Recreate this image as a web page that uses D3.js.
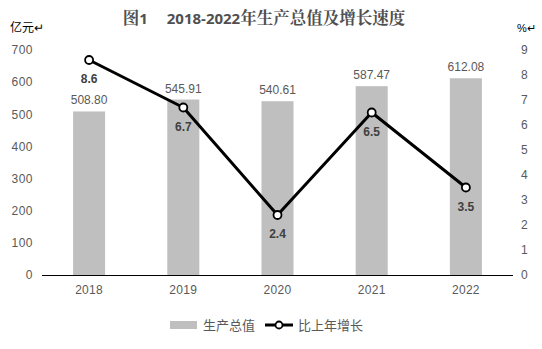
<!DOCTYPE html>
<html><head><meta charset="utf-8">
<script src="https://cdn.jsdelivr.net/npm/d3@7"></script>
<style>body{margin:0;background:#fff}svg{display:block}</style>
</head><body>
<svg id="c" width="542" height="349"></svg>
<script>
const years = ["2018","2019","2020","2021","2022"];
const gdp = [508.80, 545.91, 540.61, 587.47, 612.08];
const growth = [8.6, 6.7, 2.4, 6.5, 3.5];
const leftTicks = [0,100,200,300,400,500,600,700];
const rightTicks = [0,1,2,3,4,5,6,7,8,9];

const svg = d3.select("#c");
const m = {l:42, r:513, t:50, b:275};
const x = d3.scaleBand().domain(years).range([m.l, m.r]).paddingInner(0.66).paddingOuter(0.33);
const yL = d3.scaleLinear().domain([0,700]).range([m.b, m.t]);
const yR = d3.scaleLinear().domain([0,9]).range([m.b, m.t]);
const font = "'Liberation Sans', 'Noto Sans CJK SC', sans-serif";
const grey = "#595959";

const serif = "'Noto Serif CJK SC','Noto Sans CJK SC',serif";
const t = svg.append("text").attr("x",264).attr("y",24).attr("text-anchor","middle")
  .attr("font-weight","bold").attr("font-size",16.5).attr("fill","#505050");
t.append("tspan").attr("font-family",serif).text("图");
t.append("tspan").attr("font-family","'Open Sans','Liberation Sans',sans-serif").attr("font-size",15).text("1\u2003 2018-2022");
t.append("tspan").attr("font-family",serif).text("年生产总值及增长速度");

svg.append("text").attr("x",10).attr("y",32).attr("font-family",font).attr("font-size",12).attr("fill","#000").text("亿元↵");
svg.append("text").attr("x",517).attr("y",32).attr("font-family",font).attr("font-size",11).attr("fill","#000").text("%↵");

// bars
svg.selectAll("rect.bar").data(years).join("rect").attr("class","bar")
  .attr("x", d=>x(d)).attr("width", x.bandwidth())
  .attr("y", (d,i)=>yL(gdp[i])).attr("height",(d,i)=>m.b - yL(gdp[i]))
  .attr("fill","#bfbfbf");

// left axis
const axL = svg.append("g").attr("transform",`translate(${m.l-9},0)`)
  .call(d3.axisLeft(yL).tickValues(leftTicks).tickSize(0).tickPadding(0));
axL.select(".domain").remove();
axL.selectAll("text").attr("font-family",font).attr("font-size",12).attr("fill",grey).attr("letter-spacing","0.5px");

// right axis
const axR = svg.append("g").attr("transform",`translate(${m.r+8},0)`)
  .call(d3.axisRight(yR).tickValues(rightTicks).tickSize(0).tickPadding(0));
axR.select(".domain").remove();
axR.selectAll("text").attr("font-family",font).attr("font-size",12).attr("fill",grey);

// baseline
svg.append("line").attr("x1",m.l).attr("x2",m.r).attr("y1",m.b+0.5).attr("y2",m.b+0.5).attr("stroke","#000").attr("stroke-width",1);

// x axis labels
const axB = svg.append("g").attr("transform",`translate(0,${m.b+10})`)
  .call(d3.axisBottom(x).tickSize(0).tickPadding(0));
axB.select(".domain").remove();
axB.selectAll("text").attr("font-family",font).attr("font-size",12).attr("fill",grey).attr("dy","0.71em").attr("letter-spacing","0.3px");

// bar labels
svg.selectAll("text.bl").data(years).join("text").attr("class","bl")
  .attr("x", d=>x(d)+x.bandwidth()/2).attr("y",(d,i)=>yL(gdp[i])-7)
  .attr("text-anchor","middle").attr("font-family",font).attr("font-size",12).attr("fill",grey)
  .text((d,i)=>gdp[i].toFixed(2));

// line
const cx = d=>x(d)+x.bandwidth()/2;
const line = d3.line().x((d,i)=>cx(years[i])).y(d=>yR(d));
svg.append("path").datum(growth).attr("d",line).attr("fill","none").attr("stroke","#000").attr("stroke-width",3).attr("stroke-linejoin","round");
svg.selectAll("circle.pt").data(growth).join("circle").attr("class","pt")
  .attr("cx",(d,i)=>cx(years[i])).attr("cy",d=>yR(d)).attr("r",4)
  .attr("fill","#fff").attr("stroke","#000").attr("stroke-width",1.8);
svg.selectAll("text.ll").data(growth).join("text").attr("class","ll")
  .attr("x",(d,i)=>cx(years[i])).attr("y",d=>yR(d)+23)
  .attr("text-anchor","middle").attr("font-family",font).attr("font-size",12).attr("font-weight","bold").attr("fill","#404040")
  .text(d=>d.toFixed(1));

// legend
const lg = svg.append("g");
lg.append("rect").attr("x",170).attr("y",321).attr("width",27).attr("height",8).attr("fill","#bfbfbf");
lg.append("text").attr("x",203).attr("y",330).attr("font-family","'Noto Sans CJK SC',sans-serif").attr("font-size",13).attr("fill",grey).text("生产总值");
lg.append("line").attr("x1",265).attr("x2",293).attr("y1",325).attr("y2",325).attr("stroke","#000").attr("stroke-width",3);
lg.append("circle").attr("cx",279).attr("cy",325).attr("r",3.5).attr("fill","#fff").attr("stroke","#000").attr("stroke-width",1.8);
lg.append("text").attr("x",298).attr("y",330).attr("font-family","'Noto Sans CJK SC',sans-serif").attr("font-size",13).attr("fill",grey).text("比上年增长");
</script>
</body></html>
